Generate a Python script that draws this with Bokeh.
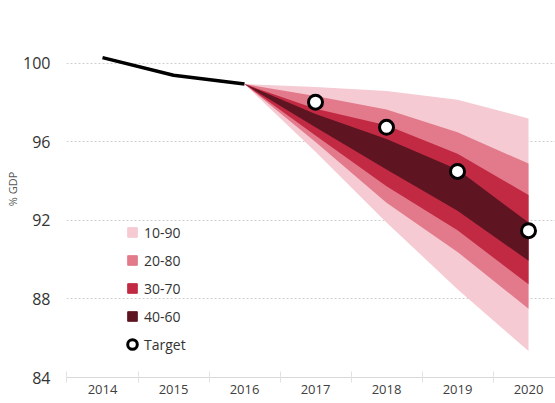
from bokeh.plotting import figure
from bokeh.models import FixedTicker, Legend, LegendItem, ColumnDataSource
from bokeh.embed import file_html
from bokeh.resources import INLINE

# ---- data ----
hist_years = [2014, 2015, 2016]
hist_debt = [100.3, 99.4, 98.95]

fan_years = [2016, 2017, 2018, 2019, 2020]
p10 = [98.95, 95.5, 91.9, 88.5, 85.35]
p90 = [98.95, 98.8, 98.6, 98.15, 97.2]
p20 = [98.95, 96.0, 92.9, 90.4, 87.5]
p80 = [98.95, 98.35, 97.65, 96.5, 94.9]
p30 = [98.95, 96.33, 93.75, 91.5, 88.75]
p70 = [98.95, 97.7, 96.85, 95.4, 93.3]
p40 = [98.95, 96.75, 94.6, 92.5, 89.95]
p60 = [98.95, 97.43, 96.15, 94.6, 91.9]

target_years = [2017, 2018, 2019, 2020]
target_vals = [98.03, 96.75, 94.5, 91.48]

band_labels = ["10-90", "20-80", "30-70", "40-60"]
band_colors = ["#f5cad2", "#e27a8b", "#c12a42", "#5e1421"]
x_labels = [2014, 2015, 2016, 2017, 2018, 2019, 2020]
y_ticks = [84, 88, 92, 96, 100]

FONT = "Open Sans"

p = figure(width=555, height=403, output_backend="svg", toolbar_location=None,
           x_range=(2013.493, 2020.38), y_range=(84, 103.21),
           min_border_top=0, min_border_right=0, min_border_left=66,
           min_border_bottom=26)
p.outline_line_color = None
p.background_fill_color = "white"

# grid
p.xgrid.visible = False
p.ygrid.ticker = FixedTicker(ticks=y_ticks[1:])
p.ygrid.grid_line_color = "#cfcfcf"
p.ygrid.grid_line_dash = "2 2"
p.ygrid.grid_line_width = 1

# x axis
p.xaxis.ticker = FixedTicker(ticks=x_labels,
                             minor_ticks=[y - 0.5 for y in x_labels])
p.xaxis.axis_line_color = "#d9d9d9"
p.xaxis.major_tick_line_color = None
p.xaxis.major_tick_in = 0
p.xaxis.major_tick_out = 0
p.xaxis.minor_tick_line_color = "#e2e2e2"
p.xaxis.minor_tick_in = 6
p.xaxis.minor_tick_out = 5
p.xaxis.major_label_standoff = 2
p.xaxis.major_label_text_font = FONT
p.xaxis.major_label_text_font_size = "13px"
p.xaxis.major_label_text_color = "#404040"

# y axis
p.yaxis.ticker = FixedTicker(ticks=y_ticks)
p.yaxis.axis_line_color = None
p.yaxis.major_tick_line_color = None
p.yaxis.minor_tick_line_color = None
p.yaxis.major_tick_in = 0
p.yaxis.major_tick_out = 0
p.yaxis.major_label_standoff = 16
p.yaxis.major_label_text_font = FONT
p.yaxis.major_label_text_font_size = "16px"
p.yaxis.major_label_text_color = "#333333"
p.yaxis.axis_label = "% GDP"
p.yaxis.axis_label_text_font = FONT
p.yaxis.axis_label_text_font_size = "11px"
p.yaxis.axis_label_text_font_style = "normal"
p.yaxis.axis_label_text_color = "#555555"
p.yaxis.axis_label_standoff = 0

# fan bands
fan_src = ColumnDataSource(dict(x=fan_years, p10=p10, p90=p90, p20=p20, p80=p80,
                                p30=p30, p70=p70, p40=p40, p60=p60))
pairs = [("p10", "p90"), ("p20", "p80"), ("p30", "p70"), ("p40", "p60")]
legend_items = []
for (lo, hi), col, lab in zip(pairs, band_colors, band_labels):
    p.varea(x="x", y1=lo, y2=hi, source=fan_src, fill_color=col, fill_alpha=1.0)
    proxy = p.scatter(x="x", y=hi, source=fan_src, marker="square",
                      fill_color=col, line_color=col, size=10, visible=False)
    legend_items.append(LegendItem(label=lab, renderers=[proxy]))

# history line
p.line(hist_years, hist_debt, line_color="black", line_width=3.5)

# targets
tgt = p.scatter(target_years, target_vals, marker="circle", size=14,
                fill_color="white", line_color="black", line_width=3)
legend_items.append(LegendItem(label="Target", renderers=[tgt]))

legend = Legend(items=legend_items, location=(54, 21), orientation="vertical")
legend.background_fill_alpha = 0
legend.border_line_color = None
legend.padding = 0
legend.margin = 0
legend.spacing = 4
legend.glyph_width = 24
legend.glyph_height = 24
legend.label_height = 20
legend.label_standoff = 0
legend.label_text_font = FONT
legend.label_text_font_size = "14px"
legend.label_text_color = "#333333"
p.add_layout(legend, "center")

open("out.html", "w").write(file_html(p, INLINE))
